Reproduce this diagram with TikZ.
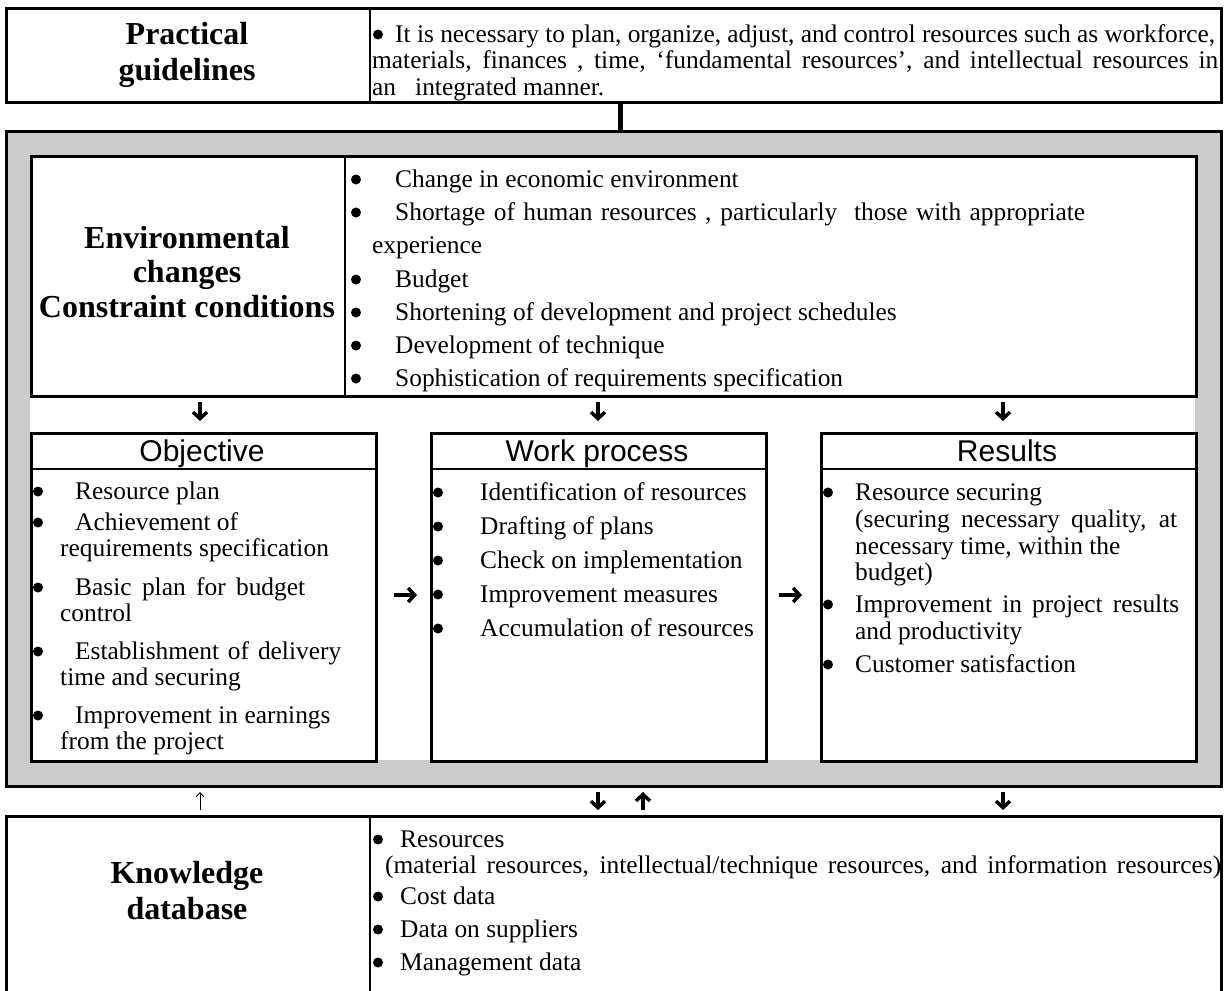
\documentclass[tikz,border=0pt]{standalone}
\usepackage{fontspec}
\setmainfont{Liberation Serif}
\newfontfamily\arialf{Liberation Sans}
\usetikzlibrary{arrows.meta}
\newcounter{tlc}
\newcommand\tl[3]{\stepcounter{tlc}\node[body,anchor=base west] (t\arabic{tlc}) at (#1,#2) {#3};}
\newcommand\tj[4]{\stepcounter{tlc}\node[body,anchor=base west] (t\arabic{tlc}) at (#1,#2) {\makebox[#3pt][s]{#4}};}
\newcommand\bl[2]{\stepcounter{tlc}\node[bul] (b\arabic{tlc}) at (#1,#2-7.5) {};}
\tikzset{
  box/.style={draw, line width=3pt, fill=white, anchor=north west, inner sep=0pt},
  divline/.style={line width=2pt},
  body/.style={font=\fontsize{25.4}{29}\selectfont, inner sep=0pt},
  bul/.style={circle, fill=black, inner sep=0pt, minimum size=10pt},
  hdr/.style={font=\fontsize{32}{36}\selectfont\bfseries, align=center, inner sep=0pt},
  sanshdr/.style={font=\arialf\fontsize{30}{34}\selectfont, inner sep=0pt, anchor=base},
  barrow/.style={line width=3.5pt, -{Straight Barb[length=6.5pt,width=14pt]}},
  tarrow/.style={line width=0.9pt, -{Straight Barb[length=4pt,width=8pt]}},
}
\begin{document}
\begin{tikzpicture}[x=1pt,y=-1pt]
\useasboundingbox (0,0) rectangle (1225,990);
% top box
\node[box, minimum width=1215, minimum height=94] (guide) at (5,7) {};
\draw[divline] (370,7) -- (370,101);
\node[hdr] (pg) at (187,55) {Practical\\guidelines};
\bl{378}{42}\tj{395}{42}{820}{It is necessary to plan, organize, adjust, and control resources such as workforce,}
\tj{372}{69}{846}{materials, finances , time, ‘fundamental resources’, and intellectual resources in}
\tl{372}{95}{an\ \ \ integrated manner.}
% gray frame
\node[draw, line width=3pt, fill=gray!40, anchor=north west, minimum width=1215, minimum height=655, inner sep=0pt] (frame) at (5,130) {};
\fill[white] (30,155) rectangle (1195,760);
\path (620,0) coordinate (cx);
\draw[line width=5pt] (guide.south -| cx) -- (frame.north -| cx);
% environment box
\node[box, minimum width=1165, minimum height=240] (env) at (30,155) {};
\draw[divline] (345,155) -- (345,395);
\node[hdr, font=\fontsize{32}{34.5}\selectfont\bfseries] (envh) at (187,272) {Environmental\\changes\\Constraint conditions};
\bl{356}{187}\tl{395}{187}{Change in economic environment}
\bl{356}{220}\tj{395}{220}{690}{Shortage of human resources , particularly\ \ those with appropriate}
\tl{372}{253}{experience}
\bl{356}{287}\tl{395}{287}{Budget}
\bl{356}{320}\tl{395}{320}{Shortening of development and project schedules}
\bl{356}{353}\tl{395}{353}{Development of technique}
\bl{356}{386}\tl{395}{386}{Sophistication of requirements specification}
% lower boxes
\node[box, minimum width=345, minimum height=328] (obj) at (30,432) {};
\node[box, minimum width=335, minimum height=328] (work) at (430,432) {};
\node[box, minimum width=375, minimum height=328] (res) at (820,432) {};
\draw[divline] (30,469) -- (375,469);
\draw[divline] (430,469) -- (765,469);
\draw[divline] (820,469) -- (1195,469);
\node[sanshdr] (objh) at (202,461) {Objective};
\node[sanshdr] (workh) at (597,461) {Work process};
\node[sanshdr] (resh) at (1007,461) {Results};
% objective items
\bl{38}{499}\tl{75}{499}{Resource plan}
\bl{38}{530}\tl{75}{530}{Achievement of}
\tl{60}{556}{requirements specification}
\bl{38}{595}\tj{75}{595}{230}{Basic plan for budget}
\tl{60}{621}{control}
\bl{38}{659}\tj{75}{659}{266}{Establishment of delivery}
\tl{60}{685}{time and securing}
\bl{38}{723}\tl{75}{723}{Improvement in earnings}
\tl{60}{749}{from the project}
% work items
\bl{438}{500}\tl{480}{500}{Identification of resources}
\bl{438}{534}\tl{480}{534}{Drafting of plans}
\bl{438}{568}\tl{480}{568}{Check on implementation}
\bl{438}{602}\tl{480}{602}{Improvement measures}
\bl{438}{636}\tl{480}{636}{Accumulation of resources}
% results items
\bl{828}{500}\tl{855}{500}{Resource securing}
\tj{855}{527}{322}{(securing necessary quality, at}
\tl{855}{554}{necessary time, within the}
\tl{855}{580}{budget)}
\bl{828}{612}\tj{855}{612}{324}{Improvement in project results}
\tl{855}{639}{and productivity}
\bl{828}{672}\tl{855}{672}{Customer satisfaction}
% knowledge box
\node[box, minimum width=1215, minimum height=200] (know) at (5,815) {};
\draw[divline] (370,815) -- (370,1015);
\node[hdr] (kh) at (187,891) {Knowledge\\database};
\bl{378}{847}\tl{400}{847}{Resources}
\tj{385}{873}{836}{(material resources, intellectual/technique resources, and information resources)}
\bl{378}{904}\tl{400}{904}{Cost data}
\bl{378}{937}\tl{400}{937}{Data on suppliers}
\bl{378}{970}\tl{400}{970}{Management data}
% arrows env -> lower boxes
\coordinate (a1s) at (200,402); \coordinate (a1e) at (200,421);
\coordinate (a2s) at (598,402); \coordinate (a2e) at (598,421);
\coordinate (a3s) at (1003,402); \coordinate (a3e) at (1003,421);
\draw[barrow] (a1s) -- (a1e);
\draw[barrow] (a2s) -- (a2e);
\draw[barrow] (a3s) -- (a3e);
% horizontal arrows
\coordinate (h1s) at (394,595); \coordinate (h1e) at (417,595);
\coordinate (h2s) at (779,595); \coordinate (h2e) at (802,595);
\draw[barrow] (h1s) -- (h1e);
\draw[barrow] (h2s) -- (h2e);
% arrows between frame and knowledge
\coordinate (k1s) at (200,810); \coordinate (k1e) at (200,792);
\coordinate (k2s) at (598,792); \coordinate (k2e) at (598,810);
\coordinate (k3s) at (643,810); \coordinate (k3e) at (643,792);
\coordinate (k4s) at (1003,792); \coordinate (k4e) at (1003,810);
\draw[tarrow] (k1s) -- (k1e);
\draw[barrow] (k2s) -- (k2e);
\draw[barrow] (k3s) -- (k3e);
\draw[barrow] (k4s) -- (k4e);
\end{tikzpicture}
\end{document}
